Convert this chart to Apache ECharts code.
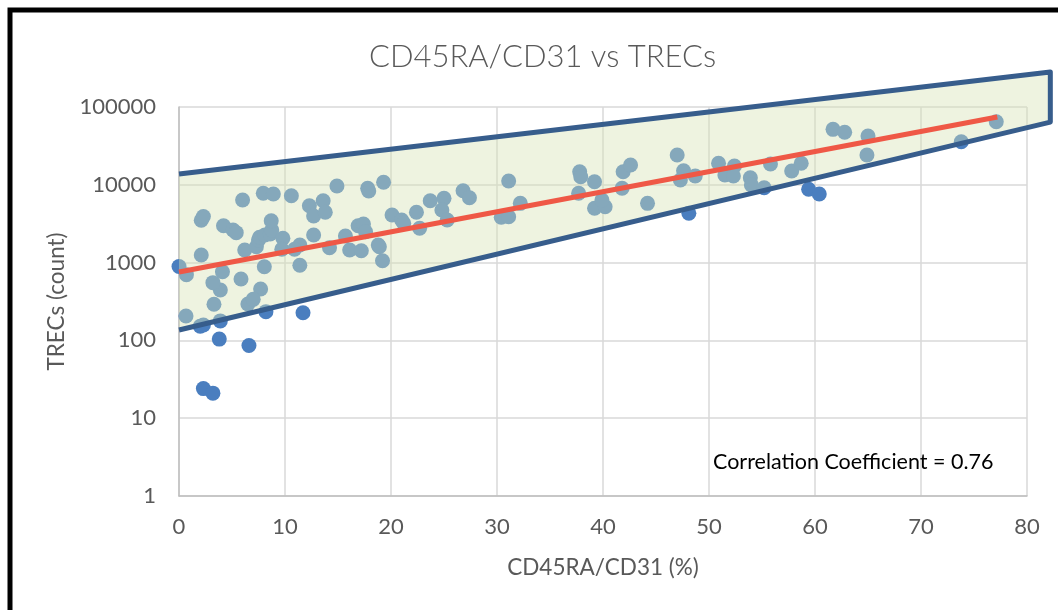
<!DOCTYPE html>
<html>
<head>
<meta charset="utf-8">
<script src="https://cdn.jsdelivr.net/npm/echarts@6/dist/echarts.min.js"></script>
<style>html,body{margin:0;padding:0;background:#fff;}#c{width:1058px;height:610px;}</style>
</head>
<body>
<div id="c"></div>
<script>
// CD45RA/CD31 (%) values
const xs = [0, 0.7, 2.1, 2.3, 2.1, 0.66, 2.0, 2.3, 3.9, 3.8, 6.6, 2.3, 3.2, 8.2, 11.7, 3.3, 3.9, 3.2, 4.1, 5.85,
  7.7, 6.5, 7.0, 8.05, 6.2, 7.3, 7.5, 7.6, 8.1, 8.6, 8.75, 8.7, 9.8, 9.7, 11.4, 10.9, 11.4, 6.0, 7.95, 8.9,
  10.6, 4.2, 5.1, 5.4, 12.3, 13.6, 12.7, 13.8, 12.7, 14.9, 17.8, 17.9, 19.3, 14.2, 15.7, 16.1, 17.2, 16.9, 17.4, 17.6,
  18.8, 18.9, 19.2, 20.1, 21.0, 21.2, 22.4, 22.7, 23.7, 25.0, 24.8, 25.3, 26.8, 27.4, 31.1, 30.4, 31.1, 32.2, 37.8, 37.9,
  37.7, 39.2, 39.2, 40.2, 39.9, 41.9, 41.8, 42.6, 44.2, 47.0, 47.6, 47.3, 48.7, 48.1, 50.9, 51.5, 52.4, 52.3, 53.9, 54.0,
  55.2, 55.8, 57.8, 58.7, 59.4, 60.4, 61.7, 62.8, 65.0, 64.9, 73.8, 77.1];
// TRECs (count) values
const ys = [890, 700, 3500, 3900, 1250, 206, 152, 158, 178, 104, 86, 24, 21, 234, 227, 291, 444, 552, 764, 615,
  458, 294, 337, 886, 1452, 1600, 1950, 2115, 2264, 2333, 2625, 3457, 2052, 1483, 1683, 1483, 923, 6380, 7780, 7620,
  7244, 2980, 2625, 2425, 5385, 6250, 3970, 4430, 2263, 9660, 9020, 8320, 10770, 1555, 2198, 1452, 1423, 2980, 3135, 2497,
  1683, 1600, 1058, 4090, 3530, 3200, 4430, 2760, 6250, 6700, 4745, 3530, 8400, 6830, 11190, 3820, 3890, 5780, 14730, 12710,
  7780, 10960, 4990, 5230, 6380, 14730, 9020, 17970, 5780, 24150, 15180, 11530, 12980, 4300, 18900, 13370, 17460, 12980, 12340, 9940,
  9180, 18500, 15040, 18900, 8750, 7620, 51650, 47300, 42400, 24150, 35800, 64700];
// Trend line endpoints
const trendX = [0, 77.2];
const trendY = [757, 74300];
// Envelope polygon vertices: upper-left, upper-right, lower-right, lower-left
const bandX = [0, 82.2, 82.2, 0];
const bandY = [13770, 282000, 64000, 136];
// Axis ticks
const xTicks = [0, 10, 20, 30, 40, 50, 60, 70, 80];
const yTicks = ['1', '10', '100', '1000', '10000', '100000'];

const FONT = 'Lato';
const chart = echarts.init(document.getElementById('c'), null, {renderer: 'canvas'});
const points = xs.map((x, i) => [x, ys[i]]);
const trend = trendX.map((x, i) => [x, trendY[i]]);

chart.setOption({
  animation: false,
  backgroundColor: '#ffffff',
  title: {
    text: 'CD45RA/CD31 vs TRECs',
    left: 364, top: 36,
    textStyle: {fontFamily: FONT, fontSize: 31, fontWeight: 300, color: '#595959'}
  },
  grid: {left: 179, right: 31, top: 107, bottom: 114, containLabel: false},
  xAxis: {
    type: 'value', min: 0, max: 80, interval: 10,
    name: 'CD45RA/CD31 (%)', nameLocation: 'middle', nameGap: 60,
    nameTextStyle: {fontFamily: FONT, fontSize: 22.5, color: '#595959'},
    axisLine: {show: true, lineStyle: {color: '#bfbfbf', width: 1.5}},
    axisTick: {show: false},
    axisLabel: {fontFamily: FONT, fontSize: 22, color: '#595959', margin: 20,
      formatter: v => xTicks.includes(v) ? String(v) : ''},
    splitLine: {show: true, lineStyle: {color: '#d9d9d9', width: 1.5}}
  },
  yAxis: {
    type: 'log', logBase: 10, min: 1, max: 100000,
    name: 'TRECs (count)', nameLocation: 'middle', nameGap: 101,
    nameTextStyle: {fontFamily: FONT, fontSize: 22.5, color: '#595959'},
    axisLine: {show: true, lineStyle: {color: '#bfbfbf', width: 1.5}},
    axisTick: {show: false},
    axisLabel: {fontFamily: FONT, fontSize: 22, color: '#595959', margin: 23,
      formatter: v => { const s = String(Math.round(v)); return yTicks.includes(s) ? s : ''; }},
    splitLine: {show: true, lineStyle: {color: '#d9d9d9', width: 1.5}}
  },
  series: [
    {
      type: 'scatter', z: 2,
      data: points,
      symbolSize: 15,
      itemStyle: {color: '#4a7ebf', opacity: 1}
    },
    {
      type: 'custom', z: 3, clip: false, silent: true,
      data: [[0, 1]],
      renderItem: function (params, api) {
        const p = bandX.map((x, i) => api.coord([x, bandY[i]]));
        return {
          type: 'group',
          children: [
            {type: 'polygon', shape: {points: p},
              style: {fill: 'rgba(214,226,180,0.42)', stroke: null}},
            {type: 'polyline', shape: {points: [p[3], p[2], p[1], p[0]]},
              style: {stroke: '#375d8c', lineWidth: 5, fill: null, lineJoin: 'round'}}
          ]
        };
      }
    },
    {
      type: 'line', z: 4,
      data: trend,
      symbol: 'none',
      lineStyle: {color: '#ef5846', width: 5}
    }
  ],
  graphic: [
    {type: 'rect', z: 100, shape: {x: 10, y: 10, width: 1200, height: 900},
      style: {fill: null, stroke: '#000000', lineWidth: 5}},
    {type: 'text', z: 100, left: 713, top: 451,
      style: {text: 'Correlation Coefficient = 0.76', font: '21.5px ' + FONT, fill: '#000000'}}
  ]
});
</script>
</body>
</html>
